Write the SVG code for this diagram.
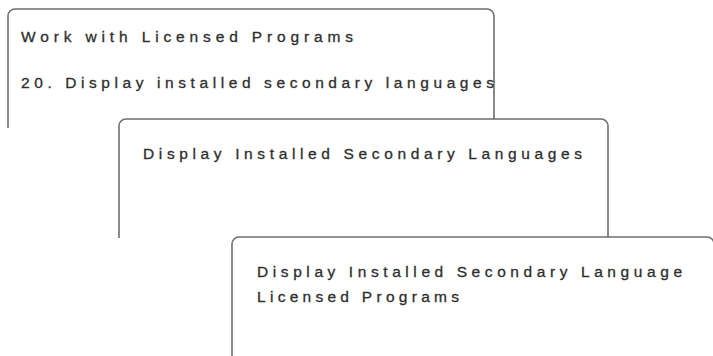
<svg xmlns="http://www.w3.org/2000/svg" width="713" height="356" viewBox="0 0 713 356">
<style>
.box{fill:#fff;stroke:#6e6e6e;stroke-width:1.6}
.t{font-family:"Liberation Sans",Arial,sans-serif;font-size:15.5px;fill:#2e2e2e;stroke:#2e2e2e;stroke-width:0.3}
</style>
<rect width="713" height="356" fill="#fff"/>
<g id="screen1">
<path class="box" d="M8,128 V16 A7,7 0 0 1 15,9 H487 A7,7 0 0 1 494,16 V128"/>
<text class="t" x="21" y="42" textLength="332" lengthAdjust="spacing">Work with Licensed Programs</text>
<text class="t" x="21" y="88" textLength="473" lengthAdjust="spacing">20. Display installed secondary languages</text>
</g>
<g id="screen2">
<path class="box" d="M119,238 V126 A7,7 0 0 1 126,119 H601 A7,7 0 0 1 608,126 V238"/>
<text class="t" x="143" y="159" textLength="439" lengthAdjust="spacing">Display Installed Secondary Languages</text>
</g>
<g id="screen3">
<path class="box" d="M232,358 V244 A7,7 0 0 1 239,237 H707 A7,7 0 0 1 714,244 V358"/>
<text class="t" x="257" y="277" textLength="425" lengthAdjust="spacing">Display Installed Secondary Language</text>
<text class="t" x="257" y="302" textLength="202" lengthAdjust="spacing">Licensed Programs</text>
</g>
</svg>
